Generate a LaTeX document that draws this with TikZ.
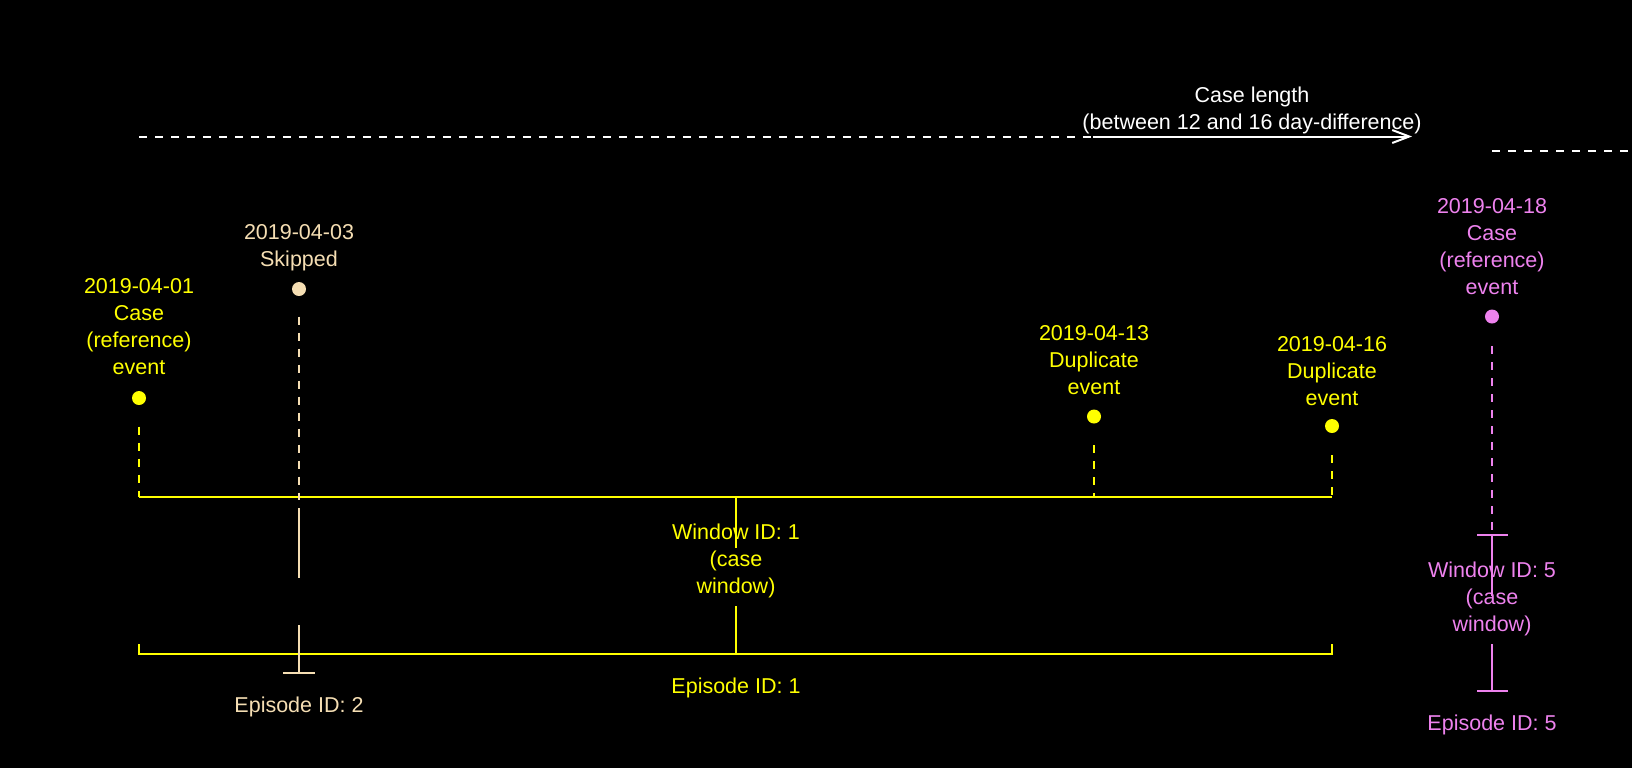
\documentclass[tikz,border=0pt]{standalone}
\usepackage{fontspec}
\setmainfont{Liberation Sans}
\usetikzlibrary{arrows.meta}
\definecolor{ylw}{HTML}{FFFF00}
\definecolor{skp}{HTML}{F5DEB3}
\definecolor{vio}{HTML}{EE82EE}
\begin{document}
\begin{tikzpicture}[x=0.5pt,y=-0.5pt,
  lbl/.style={align=center, font=\fontsize{10.75}{13.5}\selectfont, inner sep=0pt},
  dot/.style={circle, fill, inner sep=0pt, minimum size=7pt},
  dsh/.style={line width=1pt, dash pattern=on 4.2pt off 3.8pt},
  sld/.style={line width=1pt},
  tip/.style={-{Straight Barb[length=8.5pt,width=6.5pt,line width=1pt]}}]
\fill[black] (0,0) rectangle (1632,768);
\useasboundingbox (0,0) rectangle (1632,768);

% ---------- case length arrow ----------
\coordinate (cl-start) at (139,136.5);
\coordinate (cl-mid) at (1093,136.5);
\coordinate (cl-end) at (1412,136.5);
\draw[white, dsh] (cl-start) -- (cl-mid);
\draw[white, sld, tip] (cl-mid) -- (cl-end);
\node[lbl, white] (cl-lbl) at (1252,110.5) {Case length\\(between 12 and 16 day-difference)};
\coordinate (nx-start) at (1492,151);
\coordinate (nx-end) at (1632,151);
\draw[white, dsh] (nx-start) -- (nx-end);

% ---------- events ----------
\node[dot, ylw] (e1) at (139,398) {};
\node[lbl, ylw] (e1-lbl) at (139,327) {2019-04-01\\Case\\(reference)\\event};
\node[dot, skp] (e2) at (299,289) {};
\node[lbl, skp] (e2-lbl) at (299,247.5) {2019-04-03\\Skipped};
\node[dot, ylw] (e3) at (1094,416.5) {};
\node[lbl, ylw] (e3-lbl) at (1094,360.5) {2019-04-13\\Duplicate\\event};
\node[dot, ylw] (e4) at (1332,426) {};
\node[lbl, ylw] (e4-lbl) at (1332,371) {2019-04-16\\Duplicate\\event};
\node[dot, vio] (e5) at (1492,316.5) {};
\node[lbl, vio] (e5-lbl) at (1492,247) {2019-04-18\\Case\\(reference)\\event};

% ---------- window 1 / episode 1 ----------
\coordinate (w1-l) at (139,496.7);
\coordinate (w1-r) at (1332,496.7);
\coordinate (w1-c) at (736,496.7);
\coordinate (e1-s) at (139,426.7);
\coordinate (e3-s) at (1094,445);
\coordinate (e3-w) at (1094,496.7);
\coordinate (e4-s) at (1332,455);
\draw[ylw, dsh] (e1-s) -- (w1-l);
\draw[ylw, dsh] (e3-s) -- (e3-w);
\draw[ylw, dsh] (e4-s) -- (w1-r);
\draw[ylw, sld] (w1-l) -- (w1-r);
\coordinate (w1-a) at (736,548);
\coordinate (w1-b) at (736,606);
\coordinate (ep1-c) at (736,653.5);
\draw[ylw, sld] (w1-c) -- (w1-a);
\draw[ylw, sld] (w1-b) -- (ep1-c);
\node[lbl, ylw] (w1-lbl) at (736,560.5) {Window ID: 1\\(case\\window)};
\coordinate (ep1-lt) at (139,644);
\coordinate (ep1-l) at (139,653.5);
\coordinate (ep1-r) at (1332,653.5);
\coordinate (ep1-rt) at (1332,644);
\draw[ylw, sld] (ep1-lt) -- (ep1-l) -- (ep1-r) -- (ep1-rt);
\node[lbl, ylw] (ep1-lbl) at (736,687.5) {Episode ID: 1};

% ---------- skipped: episode 2 ----------
\coordinate (e2-s) at (299,316.7);
\coordinate (e2-d) at (299,500);
\coordinate (w2-a) at (299,508);
\coordinate (w2-b) at (299,578);
\coordinate (w2-c) at (299,625);
\coordinate (ep2) at (299,673);
\coordinate (ep2-l) at (283,673);
\coordinate (ep2-r) at (315,673);
\draw[skp, dsh] (e2-s) -- (e2-d);
\draw[skp, sld] (w2-a) -- (w2-b);
\draw[skp, sld] (w2-c) -- (ep2);
\draw[skp, sld] (ep2-l) -- (ep2-r);
\node[lbl, skp] (ep2-lbl) at (299,706.5) {Episode ID: 2};

% ---------- episode 5 ----------
\coordinate (e5-s) at (1492,346);
\coordinate (w5) at (1492,534.5);
\coordinate (w5-l) at (1477,534.5);
\coordinate (w5-r) at (1508,534.5);
\coordinate (w5-a) at (1492,596);
\coordinate (w5-b) at (1492,644);
\coordinate (ep5) at (1492,691);
\coordinate (ep5-l) at (1477,691);
\coordinate (ep5-r) at (1508,691);
\draw[vio, dsh] (e5-s) -- (w5);
\draw[vio, sld] (w5-l) -- (w5-r);
\draw[vio, sld] (w5) -- (w5-a);
\draw[vio, sld] (w5-b) -- (ep5);
\draw[vio, sld] (ep5-l) -- (ep5-r);
\node[lbl, vio] (w5-lbl) at (1492,598.5) {Window ID: 5\\(case\\window)};
\node[lbl, vio] (ep5-lbl) at (1492,725) {Episode ID: 5};
\end{tikzpicture}
\end{document}
